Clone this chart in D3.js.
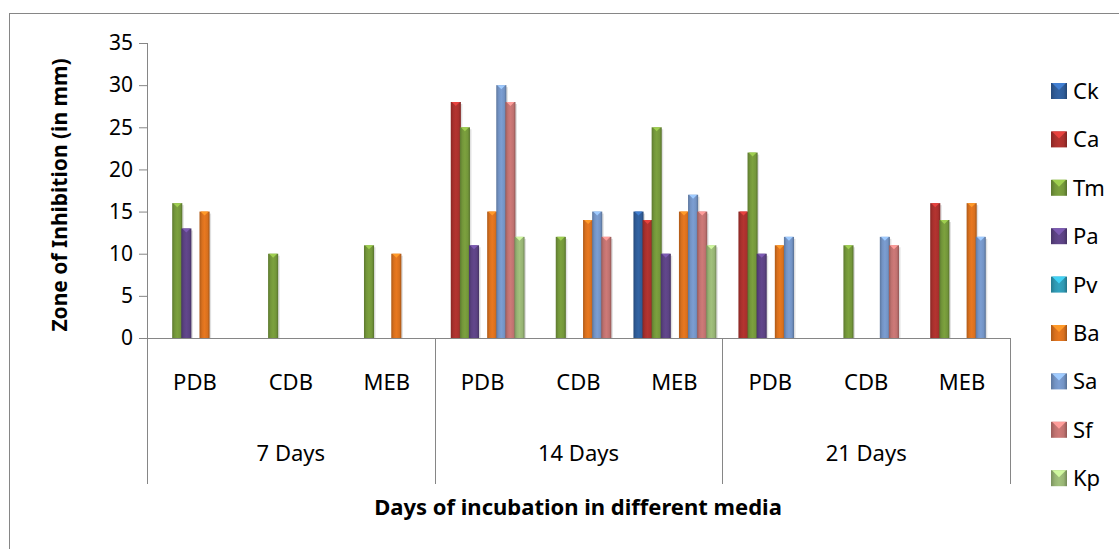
<!DOCTYPE html>
<html>
<head>
<meta charset="utf-8">
<script src="https://cdn.jsdelivr.net/npm/d3@7"></script>
<style>
body { margin:0; background:#fff; }
text { font-family:"Noto Sans", "Open Sans", sans-serif; fill:#000; }
</style>
</head>
<body>
<script>
var w = 1119;
var h = 549;

// media within each incubation period
var media = ["PDB","CDB","MEB","PDB","CDB","MEB","PDB","CDB","MEB"];
var days = ["7 Days","14 Days","21 Days"];
var series = ["Ck","Ca","Tm","Pa","Pv","Ba","Sa","Sf","Kp"];
var yTicks = [0,5,10,15,20,25,30,35];

// zone of inhibition (mm), one value per media column
var ck = [0,0,0,0,0,15,0,0,0];
var ca = [0,0,0,28,0,14,15,0,16];
var tm = [16,10,11,25,12,25,22,11,14];
var pa = [13,0,0,11,0,10,10,0,0];
var pv = [0,0,0,0,0,0,0,0,0];
var ba = [15,0,10,15,14,15,11,0,16];
var sa = [0,0,0,30,15,17,12,12,12];
var sf = [0,0,0,28,12,15,0,11,0];
var kp = [0,0,0,12,0,11,0,0,0];

var values = [ck,ca,tm,pa,pv,ba,sa,sf,kp];
var colors = ["#2f5c98","#a8302d","#73963a","#5b4282","#2f98b2","#d8701e","#7393c4","#c07270","#97b474"];

var plotLeft = 147, plotRight = 1010, plotTop = 43, plotBottom = 338;

var svg = d3.select("body")
	.append("svg")
	.attr("width", w)
	.attr("height", h);

// outer chart border
svg.append("rect")
	.attr("x", 9.5)
	.attr("y", 13.5)
	.attr("width", 1200)
	.attr("height", 600)
	.attr("fill", "none")
	.attr("stroke", "#868686");

var defs = svg.append("defs");
colors.forEach(function(c, i){
	var g = defs.append("linearGradient")
		.attr("id", "g" + i)
		.attr("x1", "0").attr("x2", "1").attr("y1", "0").attr("y2", "0");
	var base = d3.color(c);
	g.append("stop").attr("offset", "0").attr("stop-color", base.darker(0.6));
	g.append("stop").attr("offset", "0.25").attr("stop-color", base);
	g.append("stop").attr("offset", "0.5").attr("stop-color", base.brighter(0.2));
	g.append("stop").attr("offset", "0.8").attr("stop-color", base);
	g.append("stop").attr("offset", "1").attr("stop-color", base.darker(0.8));
});

var x0 = d3.scaleBand()
	.domain(d3.range(media.length))
	.range([plotLeft, plotRight]);

var x1 = d3.scaleBand()
	.domain(d3.range(series.length))
	.range([7, x0.bandwidth() - 7]);

var y = d3.scaleLinear()
	.domain([0, 35])
	.range([plotBottom, plotTop]);

// y axis
var yAxis = svg.append("g")
	.attr("transform", "translate(" + plotLeft + ",0)")
	.call(d3.axisLeft(y).tickValues(yTicks).tickSize(8).tickPadding(6));
yAxis.select(".domain").attr("stroke", "#868686").attr("d", "M0.5," + plotTop + "V" + plotBottom);
yAxis.selectAll(".tick line").attr("stroke", "#868686");
yAxis.selectAll("text")
	.style("font-size", "21px")
	.style("font-family", "'Noto Sans', sans-serif")
	.attr("fill", "#000");

// x axis line and day dividers
svg.append("line")
	.attr("x1", plotLeft - 8).attr("x2", plotRight)
	.attr("y1", plotBottom + 0.5).attr("y2", plotBottom + 0.5)
	.attr("stroke", "#868686");

var dayWidth = (plotRight - plotLeft) / days.length;
svg.selectAll(".divider")
	.data(d3.range(days.length + 1))
	.enter()
	.append("line")
	.attr("x1", function(d){ return Math.round(plotLeft + d * dayWidth) + 0.5; })
	.attr("x2", function(d){ return Math.round(plotLeft + d * dayWidth) + 0.5; })
	.attr("y1", plotBottom)
	.attr("y2", 484)
	.attr("stroke", "#868686");

svg.selectAll(".media")
	.data(media)
	.enter()
	.append("text")
	.attr("x", function(d,i){ return x0(i) + x0.bandwidth()/2; })
	.attr("y", 390)
	.attr("text-anchor", "middle")
	.style("font-size", "22px")
	.text(function(d){ return d; });

svg.selectAll(".day")
	.data(days)
	.enter()
	.append("text")
	.attr("x", function(d,i){ return plotLeft + (i + 0.5) * dayWidth; })
	.attr("y", 461)
	.attr("text-anchor", "middle")
	.style("font-size", "22px")
	.text(function(d){ return d; });

// bars
var groups = svg.selectAll(".series")
	.data(values)
	.enter()
	.append("g");

var bw = x1.bandwidth() + 1;

groups.each(function(vals, s){
	var g = d3.select(this);
	var data = vals.map(function(v, i){ return {v:v, i:i}; }).filter(function(d){ return d.v > 0; });

	g.selectAll(".shadow")
		.data(data)
		.enter()
		.append("rect")
		.attr("x", function(d){ return x0(d.i) + x1(s) + 1.5; })
		.attr("y", function(d){ return y(d.v) + 2; })
		.attr("width", bw)
		.attr("height", function(d){ return plotBottom - y(d.v) - 2; })
		.attr("fill", "#000")
		.attr("opacity", 0.12);

	g.selectAll(".bar")
		.data(data)
		.enter()
		.append("rect")
		.attr("x", function(d){ return x0(d.i) + x1(s); })
		.attr("y", function(d){ return y(d.v); })
		.attr("width", bw)
		.attr("height", function(d){ return plotBottom - y(d.v); })
		.attr("fill", "url(#g" + s + ")");

	g.selectAll(".cap")
		.data(data)
		.enter()
		.append("path")
		.attr("d", function(d){
			var bx = x0(d.i) + x1(s), by = y(d.v);
			return "M" + (bx + 1) + "," + by + "L" + (bx + bw - 1) + "," + by + "L" + (bx + bw/2) + "," + (by + 4) + "Z";
		})
		.attr("fill", d3.color(colors[s]).brighter(0.9));
});

// legend
var legend = svg.selectAll(".legend")
	.data(series)
	.enter()
	.append("g")
	.attr("transform", function(d,i){ return "translate(1051," + (91 + i * 48.4) + ")"; });

legend.append("rect")
	.attr("x", 0).attr("y", -8)
	.attr("width", 16).attr("height", 16)
	.attr("fill", function(d,i){ return "url(#g" + i + ")"; });

legend.append("path")
	.attr("d", "M1,-8L15,-8L8,-1Z")
	.attr("fill", function(d,i){ return d3.color(colors[i]).brighter(0.9); });

legend.append("text")
	.attr("x", 22)
	.attr("y", 8)
	.style("font-size", "22px")
	.text(function(d){ return d; });

// axis titles
svg.append("text")
	.attr("transform", "translate(67,195) rotate(-90)")
	.attr("text-anchor", "middle")
	.style("font-size", "21px")
	.style("font-weight", "bold")
	.text("Zone of Inhibition (in mm)");

svg.append("text")
	.attr("x", 578)
	.attr("y", 515)
	.attr("text-anchor", "middle")
	.style("font-size", "22px")
	.style("font-weight", "bold")
	.text("Days of incubation in different media");
</script>
</body>
</html>
